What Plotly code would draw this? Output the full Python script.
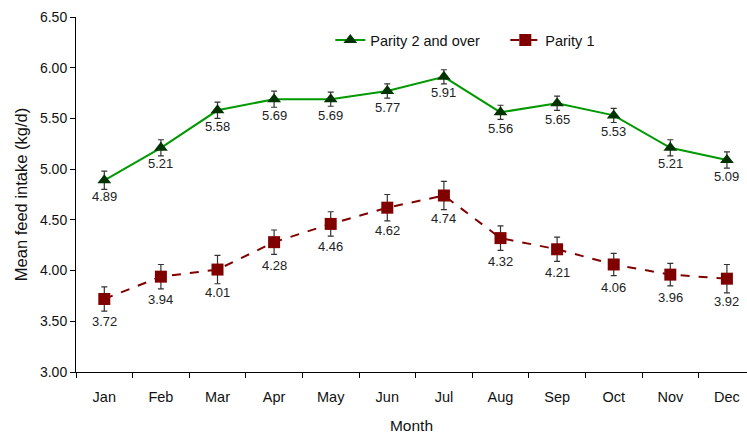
import plotly.graph_objects as go

months = ["Jan", "Feb", "Mar", "Apr", "May", "Jun", "Jul", "Aug", "Sep", "Oct", "Nov", "Dec"]
parity2 = [4.89, 5.21, 5.58, 5.69, 5.69, 5.77, 5.91, 5.56, 5.65, 5.53, 5.21, 5.09]
parity2_err = [0.09, 0.08, 0.08, 0.08, 0.07, 0.07, 0.07, 0.07, 0.07, 0.07, 0.08, 0.08]
parity1 = [3.72, 3.94, 4.01, 4.28, 4.46, 4.62, 4.74, 4.32, 4.21, 4.06, 3.96, 3.92]
parity1_err = [0.12, 0.12, 0.14, 0.12, 0.12, 0.13, 0.14, 0.12, 0.12, 0.11, 0.11, 0.14]

font = "Liberation Sans, Arial, sans-serif"

fig = go.Figure()
fig.add_trace(go.Scatter(
    x=months, y=parity2, name="Parity 2 and over", mode="lines+markers",
    line=dict(color="#009900", width=2),
    marker=dict(symbol="triangle-up", size=12, color="#003300"),
    error_y=dict(type="data", array=parity2_err, color="#333333", thickness=1.2, width=3),
))
fig.add_trace(go.Scatter(
    x=months, y=parity1, name="Parity 1", mode="lines+markers",
    line=dict(color="#800000", width=2, dash="dash"),
    marker=dict(symbol="square", size=12, color="#800000"),
    error_y=dict(type="data", array=parity1_err, color="#333333", thickness=1.2, width=3),
))

for m, v in zip(months, parity2):
    fig.add_annotation(x=m, y=v, text=f"{v:.2f}", showarrow=False, yshift=-16,
                       yanchor="middle", font=dict(family=font, size=13, color="#222222"))
for m, v in zip(months, parity1):
    fig.add_annotation(x=m, y=v, text=f"{v:.2f}", showarrow=False, yshift=-23,
                       yanchor="middle", font=dict(family=font, size=13, color="#222222"))

fig.update_layout(
    width=747, height=434,
    margin=dict(l=76, r=0, t=17, b=62),
    paper_bgcolor="white", plot_bgcolor="white",
    font=dict(family=font, size=14, color="#111111"),
    showlegend=True,
    legend=dict(orientation="h", x=0.379, y=0.935, xanchor="left", yanchor="middle",
                font=dict(family=font, size=14.5), bgcolor="rgba(0,0,0,0)",
                entrywidth=130, entrywidthmode="pixels", tracegroupgap=0),
    xaxis=dict(
        type="category", range=[-0.5, 11.355],
        showline=True, linecolor="black", linewidth=1,
        ticks="outside", ticklen=5, tickcolor="black", tickson="boundaries",
        showgrid=False, zeroline=False, automargin=False,
        ticklabelstandoff=12,
        title=dict(text="Month", font=dict(family=font, size=15.5), standoff=20),
        tickfont=dict(family=font, size=14.5),
    ),
    yaxis=dict(
        range=[3.0, 6.5], dtick=0.5, tickformat=".2f",
        showline=True, linecolor="black", linewidth=1,
        ticks="outside", ticklen=5, tickcolor="black",
        showgrid=False, zeroline=False, automargin=False,
        title=dict(text="Mean feed intake (kg/d)", font=dict(family=font, size=16.5), standoff=8),
        tickfont=dict(family=font, size=14),
    ),
)

fig.write_html("out.html")
